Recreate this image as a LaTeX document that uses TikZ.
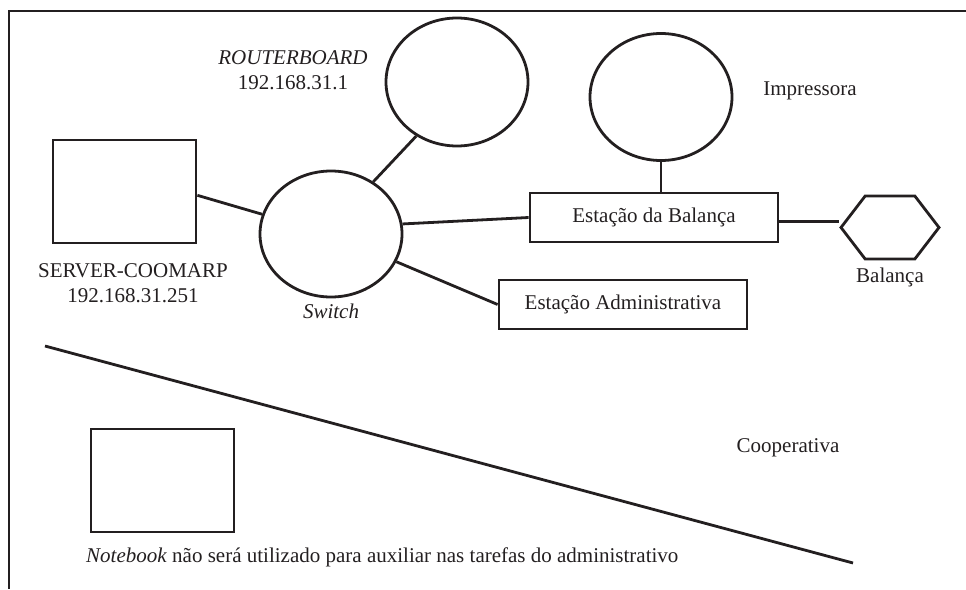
\documentclass[tikz,border=0pt]{standalone}
\usepackage{fontspec}
\setmainfont{Liberation Serif}
\usetikzlibrary{shapes.geometric,shapes.symbols}
\definecolor{inkgray}{RGB}{35,31,32}
\tikzset{
  netline/.style={draw=inkgray,line width=2.8pt},
  hostbox/.style={draw=inkgray,line width=2.8pt,rectangle,inner sep=0pt},
  devcircle/.style={draw=inkgray,line width=2.8pt,ellipse,inner sep=0pt,minimum width=142pt},
  lbl/.style={text=inkgray,font=\fontsize{21}{25}\selectfont,align=center,inner sep=0pt}
}

\begin{document}
\begin{tikzpicture}[x=1pt,y=-1pt]
\useasboundingbox (0,0) rectangle (966,589);
% moldura
\draw[netline] (966,11) -- (9,11) -- (9,589);
% equipamentos
\node[hostbox,minimum width=143pt,minimum height=103pt] (server) at (124.5,191.5) {};
\node[devcircle,minimum height=126pt] (switch) at (331,234) {};
\node[devcircle,minimum height=128pt] (router) at (457,82) {};
\node[devcircle,minimum height=127pt] (printer) at (661,97) {};
\node[hostbox,lbl,minimum width=248pt,minimum height=49pt] (stbal) at (654,217.5) {Estação da Balança};
\node[hostbox,lbl,minimum width=248pt,minimum height=49pt] (stadm) at (623,304.5) {Estação Administrativa};
\node[draw=inkgray,line width=2.8pt,signal,signal to=west and east,signal pointer angle=105,
      minimum width=98pt,minimum height=63pt,inner sep=0pt] (scale) at (890,227.5) {};
\node[hostbox,minimum width=143pt,minimum height=103pt] (notebook) at (162.5,480.5) {};
% textos
\node[lbl] (routertxt) at (293,70.5) {\textit{ROUTERBOARD}\\192.168.31.1};
\node[lbl] (servertxt) at (133,283) {SERVER-COOMARP\\192.168.31.251};
\node[lbl] (switchtxt) at (331,311) {\textit{Switch}};
\node[lbl] (printertxt) at (810,91) {Impressora};
\node[lbl] (scaletxt) at (890,277) {Balança};
\node[lbl] (cooptxt) at (788,448) {Cooperativa};
\node[lbl,anchor=west] (notetxt) at (86,557) {\textit{Notebook} não será utilizado para auxiliar nas tarefas do administrativo};
% ligacoes
\draw[netline] (server.-3) -- (switch.164);
\draw[netline] (switch.51) -- (router.-127);
\draw[netline] (switch.8) -- (stbal.west);
\draw[netline] (switch.-23) -- (stadm.west);
\draw[netline] (printer.south) -- (printer.south |- stbal.north);
\draw[netline] (stbal.-2) -- (stbal.-2 -| scale.west);
% divisoria
\coordinate (divA) at (45,346);
\coordinate (divB) at (853,563);
\draw[netline] (divA) -- (divB);
\end{tikzpicture}
\end{document}
